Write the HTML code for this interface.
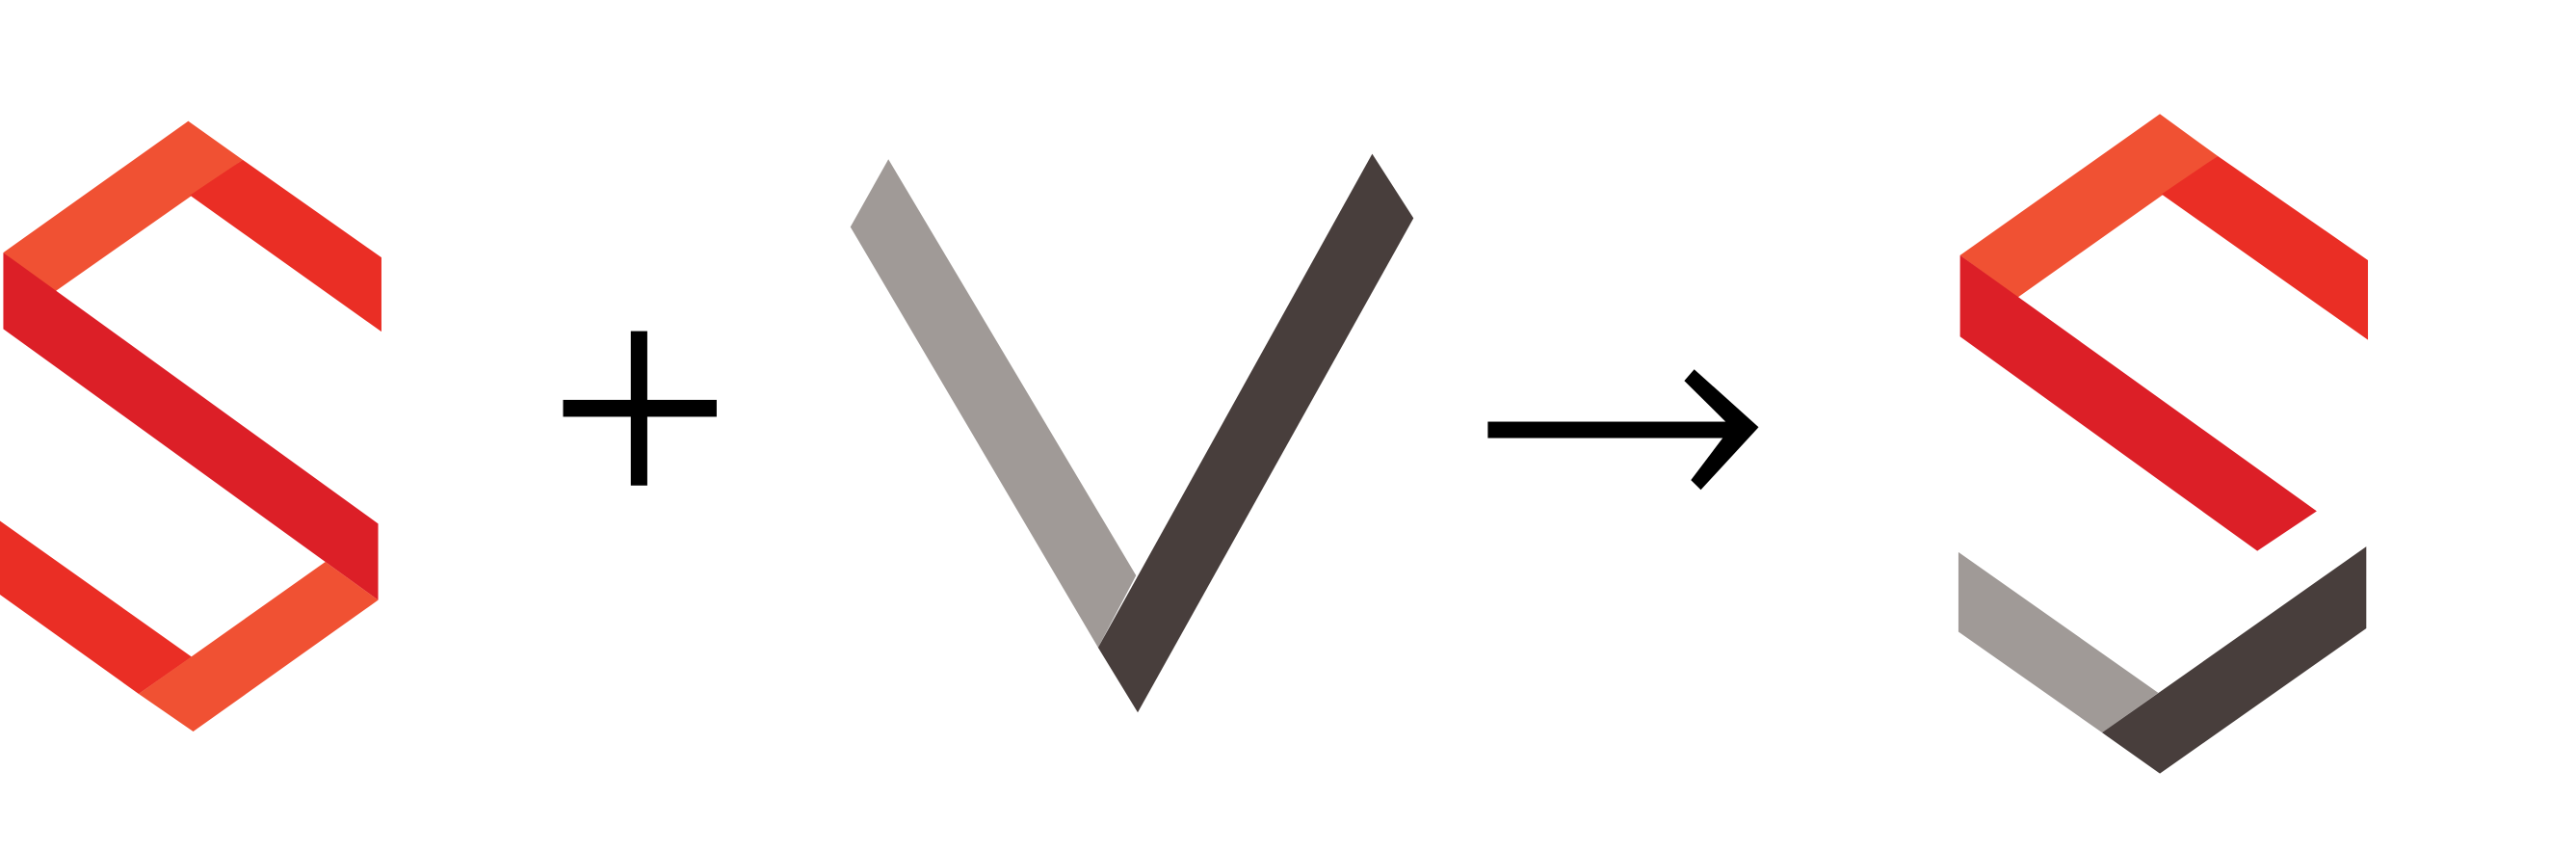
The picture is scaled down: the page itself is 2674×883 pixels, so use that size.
<!DOCTYPE html>
<html><head><meta charset="utf-8"><style>
html,body{margin:0;padding:0;background:#fff;width:2674px;height:883px;overflow:hidden}
svg{display:block}
</style></head><body>
<svg width="2674" height="883" viewBox="0 0 1560 1560" preserveAspectRatio="none" xmlns="http://www.w3.org/2000/svg">
<g>
<polygon fill="#f05133" points="2,463 114,222 147,293 33,535"/>
<polygon fill="#ea2e25" points="147,293 231,472 231,608 115,358"/>
<polygon fill="#dc1f27" points="2,463 229,960 229,1100 2,603"/>
<polygon fill="#ea2e25" points="0,955 116,1204 84,1272 0,1090"/>
<polygon fill="#f05133" points="84,1272 197,1030 229,1100 117,1341"/>
</g>
<g fill="#000">
<rect x="382" y="607" width="10" height="283"/>
<rect x="341" y="733" width="93" height="31"/>
</g>
<g>
<polygon fill="#a09a97" points="538,292 688,1055 665,1187 515,416"/>
<polygon fill="#483e3c" points="831,282 856,400 689,1306 665,1187"/>
</g>
<g fill="#000">
<rect x="901" y="773" width="152" height="30"/>
<polygon points="1020,698 1026,677 1065,783 1049,785"/>
<polygon points="1049,780 1065,783 1030,898 1024,880"/>
</g>
<g>
<polygon fill="#f05133" points="1187,468 1308,209 1343,286 1222,545"/>
<polygon fill="#ea2e25" points="1343,286 1434,477 1434,623 1309,356"/>
<polygon fill="#dc1f27" points="1187,468 1403,937 1367,1010 1187,617"/>
<polygon fill="#a09a97" points="1186,1012 1307,1270 1273,1343 1186,1158"/>
<polygon fill="#483e3c" points="1273,1343 1433,1002 1433,1152 1308,1418"/>
</g>
</svg>
</body></html>
